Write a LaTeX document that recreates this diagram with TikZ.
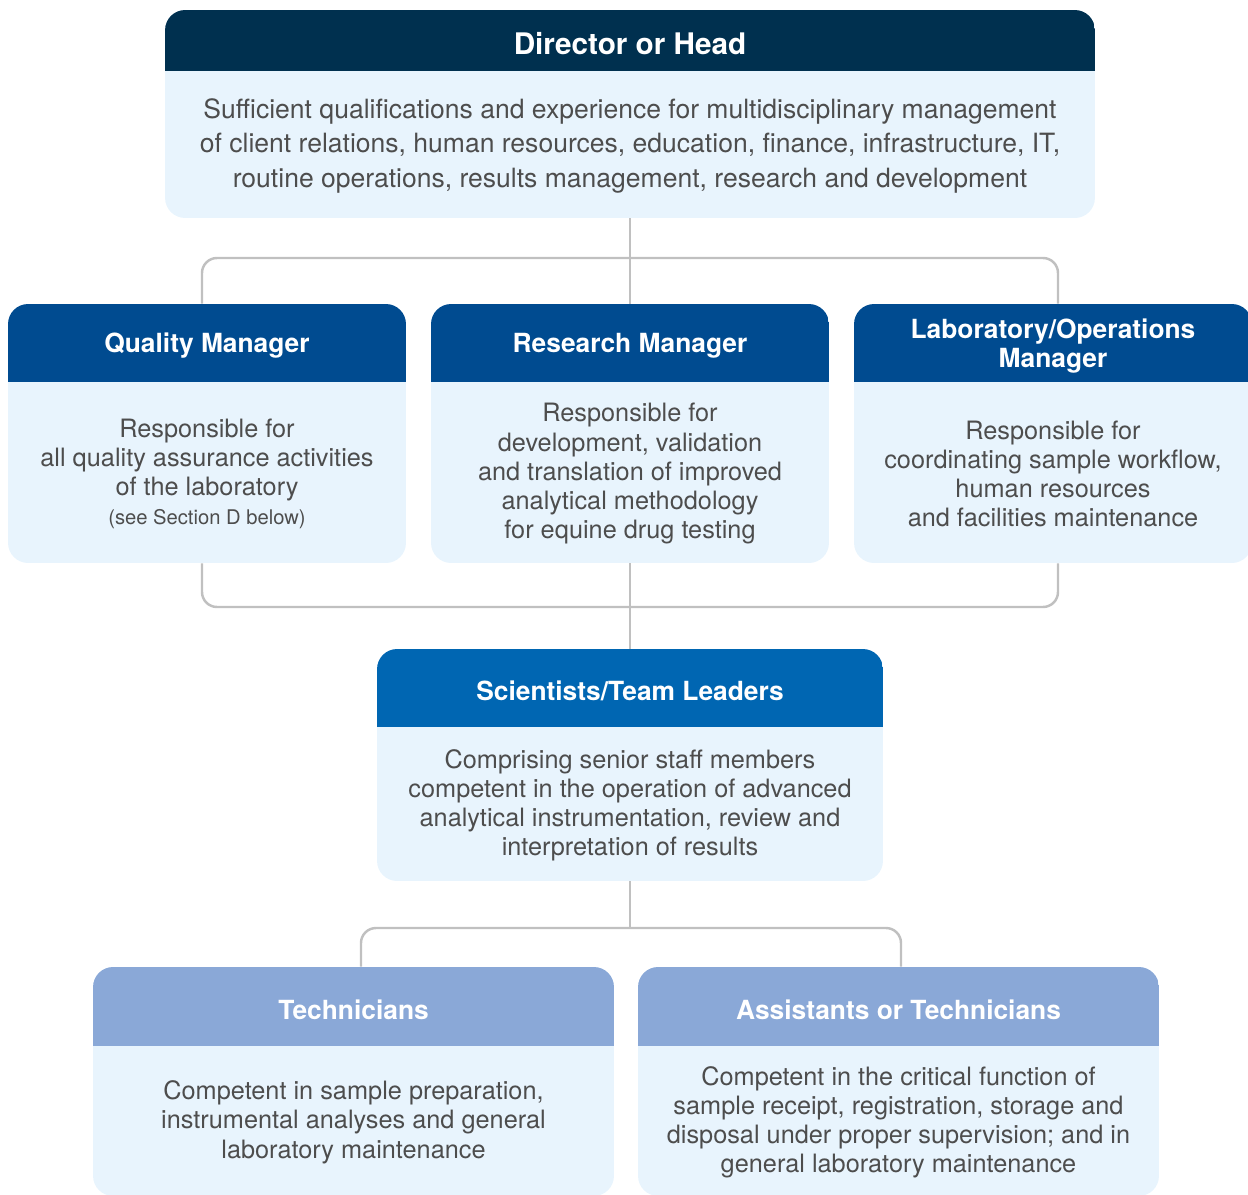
\documentclass[tikz,border=0pt]{standalone}
\usepackage{fontspec}
\setmainfont{TeX Gyre Heros}
\usetikzlibrary{positioning}

\definecolor{headnavy}{HTML}{00304F}
\definecolor{headblue}{HTML}{004B90}
\definecolor{headmid}{HTML}{0066B2}
\definecolor{headpale}{HTML}{8AA8D7}
\definecolor{bodyblue}{HTML}{E8F4FD}
\definecolor{bodytext}{HTML}{4D4D4D}
\definecolor{wiregray}{HTML}{C0C0C0}

\tikzset{
  % card: width, height, header height, header colour
  card/.style n args={4}{fill=bodyblue, rounded corners=0.4cm, inner sep=0pt,
    minimum width=#1, minimum height=#2,
    path picture={\fill[#4, sharp corners] (path picture bounding box.north west)
      rectangle ([yshift=-#3]path picture bounding box.north east);}},
  cardtitle/.style={text=white, font=\bfseries\fontsize{15}{17}\selectfont,
    align=center, inner sep=0pt, yshift=-0.06cm},
  cardtext/.style={text=bodytext, font=\fontsize{14.4}{16.6}\selectfont,
    align=center, inner sep=0pt, yshift=0.05cm},
  wire/.style={draw=wiregray, line width=1.4pt, rounded corners=0.3cm},
}

\begin{document}
\begin{tikzpicture}[x=0.02cm, y=-0.02cm]
  \useasboundingbox (0,0) rectangle (1248,1194);

  % head of the laboratory
  \node[card={18.6cm}{4.16cm}{1.22cm}{headnavy}] (dir) at (630,114) {};
  \node[cardtitle, font=\bfseries\fontsize{16.9}{18}\selectfont, minimum height=1.22cm, anchor=north] (dirtitle) at (dir.north) {Director or Head};
  \node[cardtext, font=\fontsize{15.1}{19.6}\selectfont, minimum height=2.94cm, below=0pt of dirtitle] (dirtext)
    {Sufficient qualifications and experience for multidisciplinary management\\
     of client relations, human resources, education, finance, infrastructure, IT,\\
     routine operations, results management, research and development};

  % managers
  \node[card={7.96cm}{5.18cm}{1.56cm}{headblue}] (qm) at (207,433.5) {};
  \node[cardtitle, minimum height=1.56cm, anchor=north] (qmtitle) at (qm.north) {Quality Manager};
  \node[cardtext, minimum height=3.62cm, below=0pt of qmtitle] (qmtext)
    {Responsible for\\all quality assurance activities\\of the laboratory\\
     {\fontsize{11.5}{16.6}\selectfont (see Section D below)}};

  \node[card={7.96cm}{5.18cm}{1.56cm}{headblue}] (rm) at (630,433.5) {};
  \node[cardtitle, minimum height=1.56cm, anchor=north] (rmtitle) at (rm.north) {Research Manager};
  \node[cardtext, minimum height=3.62cm, below=0pt of rmtitle] (rmtext)
    {Responsible for\\development, validation\\and translation of improved\\analytical methodology\\for equine drug testing};

  \node[card={7.96cm}{5.18cm}{1.56cm}{headblue}] (lom) at (1053,433.5) {};
  \node[cardtitle, minimum height=1.56cm, anchor=north] (lomtitle) at (lom.north) {Laboratory/Operations\\Manager};
  \node[cardtext, minimum height=3.62cm, below=0pt of lomtitle] (lomtext)
    {Responsible for\\coordinating sample workflow,\\human resources\\and facilities maintenance};

  % scientists
  \node[card={10.12cm}{4.64cm}{1.56cm}{headmid}] (sci) at (630,765) {};
  \node[cardtitle, minimum height=1.56cm, anchor=north] (scititle) at (sci.north) {Scientists/Team Leaders};
  \node[cardtext, minimum height=3.08cm, below=0pt of scititle] (scitext)
    {Comprising senior staff members\\competent in the operation of advanced\\analytical instrumentation, review and\\interpretation of results};

  % technical staff
  \node[card={10.42cm}{4.58cm}{1.58cm}{headpale}] (tech) at (353.5,1081.5) {};
  \node[cardtitle, minimum height=1.58cm, anchor=north] (techtitle) at (tech.north) {Technicians};
  \node[cardtext, minimum height=3.0cm, below=0pt of techtitle] (techtext)
    {Competent in sample preparation,\\instrumental analyses and general\\laboratory maintenance};

  \node[card={10.42cm}{4.58cm}{1.58cm}{headpale}] (asst) at (898.5,1081.5) {};
  \node[cardtitle, minimum height=1.58cm, anchor=north] (assttitle) at (asst.north) {Assistants or Technicians};
  \node[cardtext, minimum height=3.0cm, below=0pt of assttitle] (assttext)
    {Competent in the critical function of\\sample receipt, registration, storage and\\disposal under proper supervision; and in\\general laboratory maintenance};

  % connectors
  \coordinate (topbus) at (630,258);
  \coordinate (midbus) at (630,607);
  \coordinate (lowbus) at (630,928);
  \draw[wire] (dir.south) -- (rm.north);
  \draw[wire] ([xshift=-0.1cm]qm.north) |- (topbus) -| ([xshift=0.1cm]lom.north);
  \draw[wire] ([xshift=-0.1cm]qm.south) |- (midbus) -| ([xshift=0.1cm]lom.south);
  \draw[wire] (rm.south) -- (sci.north);
  \draw[wire] (sci.south) -- (lowbus);
  \draw[wire] ([xshift=0.15cm]tech.north) |- (lowbus) -| ([xshift=0.05cm]asst.north);
\end{tikzpicture}
\end{document}
